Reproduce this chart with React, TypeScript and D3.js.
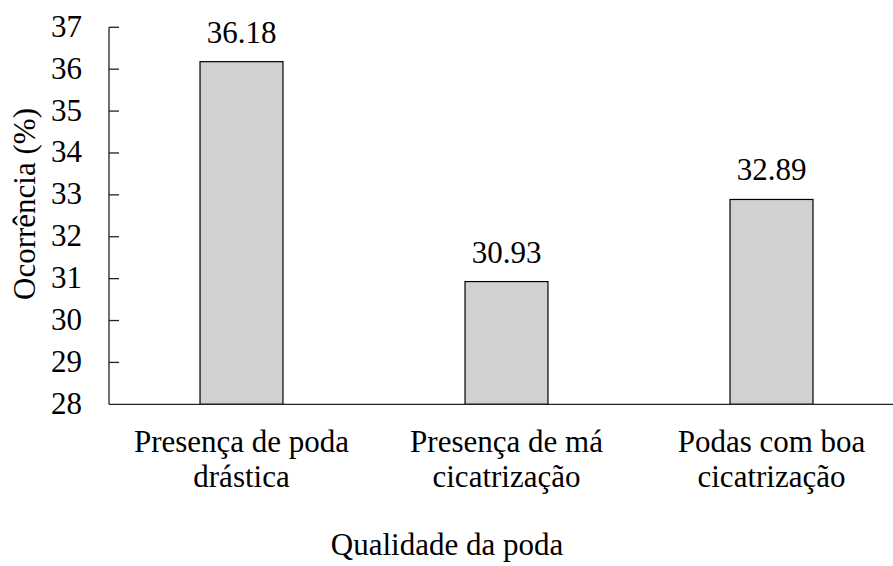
import React from "react";
import * as d3 from "d3";

const categories = ["Presença de poda drástica", "Presença de má cicatrização", "Podas com boa cicatrização"];
const categoryLines = [["Presença de poda", "drástica"], ["Presença de má", "cicatrização"], ["Podas com boa", "cicatrização"]];
const values = [36.18, 30.93, 32.89];
const valueLabels = ["36.18", "30.93", "32.89"];
const yTicks = [28, 29, 30, 31, 32, 33, 34, 35, 36, 37];
const yTitle = "Ocorrência (%)";
const xTitle = "Qualidade da poda";

export default function App() {
  const W = 893, H = 566;
  const x0 = 109;
  const y = d3.scaleLinear().domain([28, 37]).range([404.3, 27.3]);
  const x = d3.scaleBand<string>().domain(categories).range([x0, 904]).paddingInner(0.687).paddingOuter(0.3435);
  const font = "Liberation Serif, Tinos, Times New Roman, Times, DejaVu Serif, Noto Serif, serif";
  const fs = 31;
  const ts = { fontFamily: font };
  return (
    <svg width={W} height={H} style={{ position: "absolute", left: 0, top: 0, background: "#fff" }}>
      <rect x={0} y={0} width={W} height={H} fill="#fff" />
      {categories.map((c, i) => (
        <rect key={c} x={x(c)} y={y(values[i])} width={x.bandwidth()} height={y(28) - y(values[i])}
          fill="#d1d0d2" stroke="#000" strokeWidth={1.2} />
      ))}
      {categories.map((c, i) => (
        <text key={"v" + c} style={ts} x={(x(c) as number) + x.bandwidth() / 2} y={y(values[i]) - 19} textAnchor="middle" fontSize={fs} fill="#000">{valueLabels[i]}</text>
      ))}
      <line x1={x0} x2={x0} y1={y(37)} y2={y(28)} stroke="#222" strokeWidth={1.3} />
      <line x1={x0} x2={W} y1={y(28)} y2={y(28)} stroke="#222" strokeWidth={1.3} />
      {yTicks.map(t => (
        <g key={t}>
          {t > 28 && <line x1={x0} x2={x0 + 10} y1={y(t)} y2={y(t)} stroke="#222" strokeWidth={1.3} />}
          <text style={ts} x={82} y={y(t) + 9.5} textAnchor="end" fontSize={fs} fill="#000">{t}</text>
        </g>
      ))}
      {categories.map((c, i) => (
        <text key={"c" + c} style={ts} x={(x(c) as number) + x.bandwidth() / 2} textAnchor="middle" fontSize={fs} fill="#000">
          {categoryLines[i].map((ln, j) => (
            <tspan key={j} x={(x(c) as number) + x.bandwidth() / 2} y={452 + j * 35}>{ln}</tspan>
          ))}
        </text>
      ))}
      <text style={ts} x={447} y={555} textAnchor="middle" fontSize={fs} fill="#000">{xTitle}</text>
      <text style={ts} transform={`translate(35, 204) rotate(-90)`} textAnchor="middle" fontSize={fs} fill="#000">{yTitle}</text>
    </svg>
  );
}
